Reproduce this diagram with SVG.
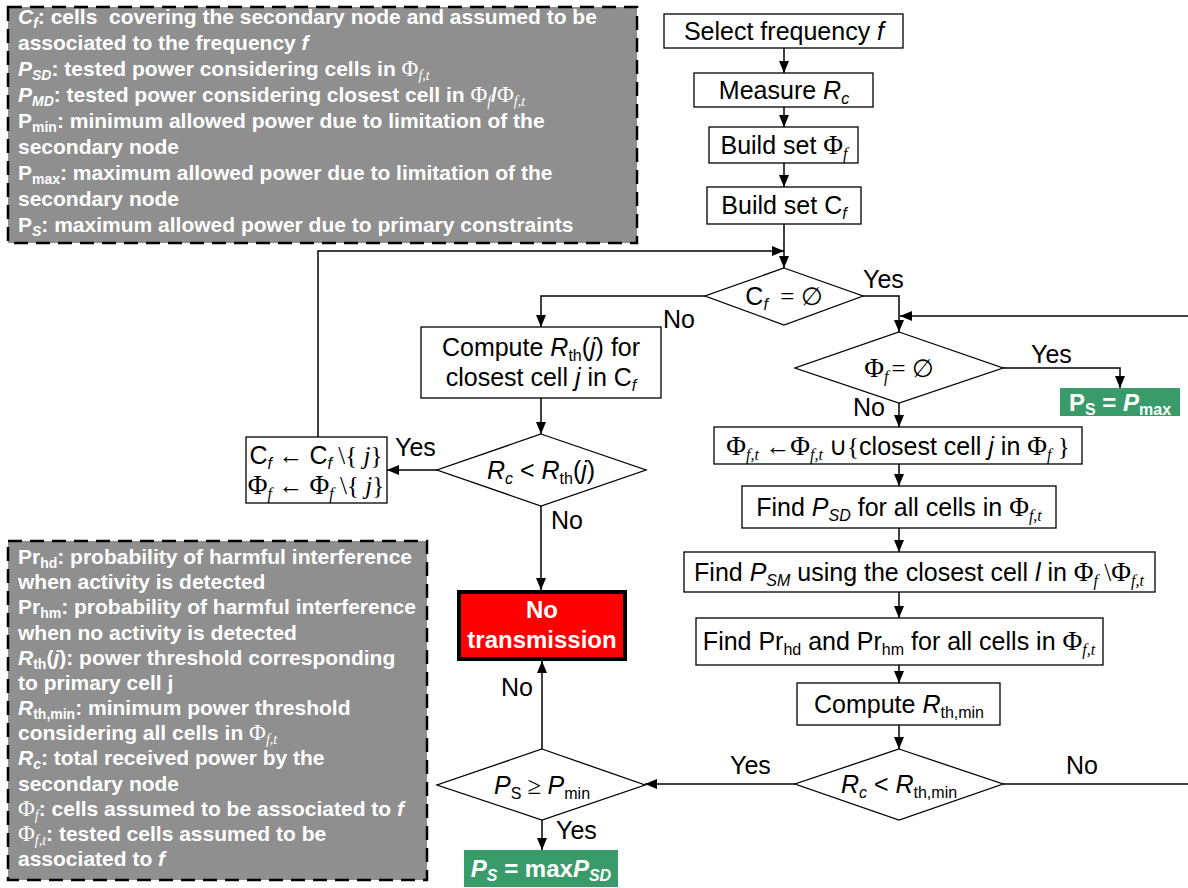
<svg xmlns="http://www.w3.org/2000/svg" width="1188" height="888" viewBox="0 0 1188 888">
<defs>
<style>
.box{fill:#fff;stroke:#000;stroke-width:1.3}
.t{font-family:"Liberation Sans",Arial,sans-serif;font-size:25px;fill:#000}
.sr{font-family:"Liberation Serif","Times New Roman",serif}
.ph{font-family:"Liberation Serif","Times New Roman",serif;font-size:27px}
.lph{font-family:"Liberation Serif","Times New Roman",serif;font-size:23px;font-weight:normal}
.sb{font-size:16px}
.it{font-style:italic}
.leg{fill:#8f8f8f;stroke:#000;stroke-width:2.5;stroke-dasharray:14 8}
.lt{font-family:"Liberation Sans",Arial,sans-serif;font-size:21px;font-weight:bold;fill:#fff}
.ls{font-size:14px}
.wb{font-family:"Liberation Sans",Arial,sans-serif;font-size:24px;font-weight:bold;fill:#fff}
.conn{fill:none;stroke:#000;stroke-width:1.5}
.green{fill:#3a9b6a}
</style>
<marker id="ah" viewBox="0 0 12 10" refX="12" refY="5" markerWidth="12" markerHeight="10" markerUnits="userSpaceOnUse" orient="auto">
<path d="M0,0 L12,5 L0,10 z" fill="#000"/>
</marker>
</defs>
<rect width="1188" height="888" fill="#fff"/>

<g id="legend-top">
<rect class="leg" x="8" y="7" width="629" height="236"/>
<text class="lt" x="18" y="24"><tspan class="it">C</tspan><tspan class="ls it" dy="4">f</tspan><tspan dy="-4">: cells&#160; covering the secondary node and assumed to be</tspan></text>
<text class="lt" x="18" y="50">associated to the frequency <tspan class="it">f</tspan></text>
<text class="lt" x="18" y="76"><tspan class="it">P</tspan><tspan class="ls it" dy="4">SD</tspan><tspan dy="-4">: tested power considering cells in </tspan><tspan class="lph">Φ</tspan><tspan class="ls it sr" font-weight="normal" dy="4">f,t</tspan></text>
<text class="lt" x="18" y="102"><tspan class="it">P</tspan><tspan class="ls it" dy="4">MD</tspan><tspan dy="-4">: tested power considering closest cell in </tspan><tspan class="lph">Φ</tspan><tspan class="ls it sr" font-weight="normal" dy="4">f</tspan><tspan dy="-4">/</tspan><tspan class="lph">Φ</tspan><tspan class="ls it sr" font-weight="normal" dy="4">f,t</tspan></text>
<text class="lt" x="18" y="128">P<tspan class="ls" dy="4">min</tspan><tspan dy="-4">: minimum allowed power due to limitation of the</tspan></text>
<text class="lt" x="18" y="154">secondary node</text>
<text class="lt" x="18" y="180">P<tspan class="ls" dy="4">max</tspan><tspan dy="-4">: maximum allowed power due to limitation of the</tspan></text>
<text class="lt" x="18" y="206">secondary node</text>
<text class="lt" x="18" y="232">P<tspan class="ls it" dy="4">S</tspan><tspan dy="-4">: maximum allowed power due to primary constraints</tspan></text>
</g>

<g id="legend-bottom">
<rect class="leg" x="8" y="541" width="419" height="339"/>
<text class="lt" x="18" y="564">Pr<tspan class="ls" dy="4">hd</tspan><tspan dy="-4">: probability of harmful interference</tspan></text>
<text class="lt" x="18" y="589">when activity is detected</text>
<text class="lt" x="18" y="614">Pr<tspan class="ls" dy="4">hm</tspan><tspan dy="-4">: probability of harmful interference</tspan></text>
<text class="lt" x="18" y="640">when no activity is detected</text>
<text class="lt" x="18" y="665"><tspan class="it">R</tspan><tspan class="ls" dy="4">th</tspan><tspan dy="-4">(</tspan><tspan class="it">j</tspan>): power threshold corresponding</text>
<text class="lt" x="18" y="690">to primary cell j</text>
<text class="lt" x="18" y="715"><tspan class="it">R</tspan><tspan class="ls" dy="4">th,min</tspan><tspan dy="-4">: minimum power threshold</tspan></text>
<text class="lt" x="18" y="740">considering all cells in <tspan class="lph">Φ</tspan><tspan class="ls it sr" font-weight="normal" dy="4">f,t</tspan></text>
<text class="lt" x="18" y="765"><tspan class="it">R</tspan><tspan class="ls it" dy="4">c</tspan><tspan dy="-4">: total received power by the</tspan></text>
<text class="lt" x="18" y="791">secondary node</text>
<text class="lt" x="18" y="816"><tspan class="lph">Φ</tspan><tspan class="ls it sr" font-weight="normal" dy="4">f</tspan><tspan dy="-4">: cells assumed to be associated to </tspan><tspan class="it">f</tspan></text>
<text class="lt" x="18" y="841"><tspan class="lph">Φ</tspan><tspan class="ls it sr" font-weight="normal" dy="4">f,t</tspan><tspan dy="-4">: tested cells assumed to be</tspan></text>
<text class="lt" x="18" y="866">associated to <tspan class="it">f</tspan></text>
</g>

<g id="connectors">
<path class="conn" d="M784,48 V73" marker-end="url(#ah)"/>
<path class="conn" d="M784,107 V127" marker-end="url(#ah)"/>
<path class="conn" d="M784,163 V187" marker-end="url(#ah)"/>
<path class="conn" d="M784,224 V268" marker-end="url(#ah)"/>
<path class="conn" d="M318,437 V251 H784" marker-end="url(#ah)"/>
<path class="conn" d="M705,296 H541 V327" marker-end="url(#ah)"/>
<path class="conn" d="M863,296 H899 V332" marker-end="url(#ah)"/>
<path class="conn" d="M1188,316 H900" marker-end="url(#ah)"/>
<path class="conn" d="M1003,368 H1120 V388" marker-end="url(#ah)"/>
<path class="conn" d="M899,403 V427" marker-end="url(#ah)"/>
<path class="conn" d="M899,464 V486" marker-end="url(#ah)"/>
<path class="conn" d="M899,528 V552" marker-end="url(#ah)"/>
<path class="conn" d="M899,592 V618" marker-end="url(#ah)"/>
<path class="conn" d="M899,665 V683" marker-end="url(#ah)"/>
<path class="conn" d="M899,725 V749" marker-end="url(#ah)"/>
<path class="conn" d="M1003,784 H1188"/>
<path class="conn" d="M795,784 H645" marker-end="url(#ah)"/>
<path class="conn" d="M542,749 V661" marker-end="url(#ah)"/>
<path class="conn" d="M542,820 V850" marker-end="url(#ah)"/>
<path class="conn" d="M541,398 V434" marker-end="url(#ah)"/>
<path class="conn" d="M541,506 V590" marker-end="url(#ah)"/>
<path class="conn" d="M437,470 H387" marker-end="url(#ah)"/>
<text class="t" x="863" y="288">Yes</text>
<text class="t" x="663" y="328">No</text>
<text class="t" x="1031" y="363">Yes</text>
<text class="t" x="853" y="416">No</text>
<text class="t" x="395" y="456">Yes</text>
<text class="t" x="551" y="529">No</text>
<text class="t" x="501" y="696">No</text>
<text class="t" x="556" y="839">Yes</text>
<text class="t" x="730" y="774">Yes</text>
<text class="t" x="1066" y="774">No</text>
</g>

<g id="select-frequency">
<rect class="box" x="664" y="14" width="239" height="34"/>
<text class="t" x="784" y="40" text-anchor="middle">Select frequency <tspan class="it">f</tspan></text>
</g>
<g id="measure-rc">
<rect class="box" x="694" y="73" width="179" height="34"/>
<text class="t" x="784" y="99" text-anchor="middle">Measure <tspan class="it">R</tspan><tspan class="sb it" dy="5">c</tspan></text>
</g>
<g id="build-phi">
<rect class="box" x="709" y="127" width="149" height="36"/>
<text class="t" x="784" y="154" text-anchor="middle">Build set <tspan class="ph">Φ</tspan><tspan class="sb it sr" dy="5">f</tspan></text>
</g>
<g id="build-c">
<rect class="box" x="707" y="187" width="154" height="37"/>
<text class="t" x="784" y="214" text-anchor="middle">Build set C<tspan class="sb it" dy="5">f</tspan></text>
</g>
<g id="cf-empty">
<polygon class="box" points="784,268 863,296 784,325 705,296"/>
<text class="t" x="784" y="305" text-anchor="middle">C<tspan class="sb it" dy="5">f</tspan><tspan class="sr" dy="-5">&#160; = ∅</tspan></text>
</g>
<g id="phi-empty">
<polygon class="box" points="899,332 1003,368 899,403 795,368"/>
<text class="t" x="899" y="377" text-anchor="middle"><tspan class="ph">Φ</tspan><tspan class="sb it sr" dy="5">f</tspan><tspan class="sr" dy="-5" dx="3">= ∅</tspan></text>
</g>
<g id="ps-pmax">
<rect class="green" x="1060" y="388" width="120" height="28"/>
<text class="wb" x="1120" y="411" text-anchor="middle">P<tspan font-size="16" dy="4">S</tspan><tspan dy="-4"> = </tspan><tspan class="it">P</tspan><tspan font-size="16" dy="4">max</tspan></text>
</g>
<g id="add-cell">
<rect class="box" x="714" y="427" width="368" height="37"/>
<text class="t" x="898" y="455" text-anchor="middle"><tspan class="ph">Φ</tspan><tspan class="sb it sr" dy="5">f,t</tspan><tspan class="sr" dy="-5"> ←</tspan><tspan class="ph">Φ</tspan><tspan class="sb it sr" dy="5">f,t</tspan><tspan class="sr" dy="-5"> ∪{</tspan>closest cell <tspan class="it">j</tspan> in <tspan class="ph">Φ</tspan><tspan class="sb it sr" dy="5">f</tspan><tspan class="sr" dy="-5"> }</tspan></text>
</g>
<g id="find-psd">
<rect class="box" x="742" y="486" width="314" height="42"/>
<text class="t" x="899" y="516" text-anchor="middle">Find <tspan class="it">P</tspan><tspan class="sb it" dy="5">SD</tspan><tspan dy="-5"> for all cells in </tspan><tspan class="ph">Φ</tspan><tspan class="sb it sr" dy="5">f,t</tspan></text>
</g>
<g id="find-psm">
<rect class="box" x="684" y="552" width="471" height="40"/>
<text class="t" x="919" y="581" text-anchor="middle">Find <tspan class="it">P</tspan><tspan class="sb it" dy="5">SM</tspan><tspan dy="-5"> using the closest cell </tspan><tspan class="it">l</tspan> in <tspan class="ph">Φ</tspan><tspan class="sb it sr" dy="5">f</tspan><tspan class="sr" dy="-5"> \</tspan><tspan class="ph">Φ</tspan><tspan class="sb it sr" dy="5">f,t</tspan></text>
</g>
<g id="find-pr">
<rect class="box" x="696" y="618" width="407" height="47"/>
<text class="t" x="899" y="650" text-anchor="middle">Find Pr<tspan class="sb" dy="5">hd</tspan><tspan dy="-5"> and Pr</tspan><tspan class="sb" dy="5">hm</tspan><tspan dy="-5"> for all cells in </tspan><tspan class="ph">Φ</tspan><tspan class="sb it sr" dy="5">f,t</tspan></text>
</g>
<g id="compute-rthmin">
<rect class="box" x="797" y="683" width="203" height="42"/>
<text class="t" x="899" y="713" text-anchor="middle">Compute <tspan class="it">R</tspan><tspan class="sb" dy="5">th,min</tspan></text>
</g>
<g id="rc-rthmin">
<polygon class="box" points="899,749 1003,784 899,820 795,784"/>
<text class="t" x="899" y="793" text-anchor="middle"><tspan class="it">R</tspan><tspan class="sb it" dy="5">c</tspan><tspan dy="-5"> &lt; </tspan><tspan class="it">R</tspan><tspan class="sb" dy="5">th,min</tspan></text>
</g>
<g id="ps-pmin">
<polygon class="box" points="542,749 645,785 542,820 437,785"/>
<text class="t" x="542" y="794" text-anchor="middle"><tspan class="it">P</tspan><tspan class="sb" dy="5">S</tspan><tspan class="sr" dy="-5"> ≥ </tspan><tspan class="it">P</tspan><tspan class="sb" dy="5">min</tspan></text>
</g>
<g id="no-transmission">
<rect x="459" y="592" width="166" height="67" fill="#ff0000" stroke="#000" stroke-width="4"/>
<text class="wb" font-size="25" x="542" y="618" text-anchor="middle">No</text>
<text class="wb" font-size="25" x="542" y="648" text-anchor="middle">transmission</text>
</g>
<g id="ps-maxpsd">
<rect class="green" x="464" y="850" width="154" height="37"/>
<text class="wb" x="541" y="877" text-anchor="middle"><tspan class="it">P</tspan><tspan class="it" font-size="16" dy="4">S</tspan><tspan dy="-4"> = max</tspan><tspan class="it">P</tspan><tspan class="it" font-size="16" dy="4">SD</tspan></text>
</g>
<g id="compute-rthj">
<rect class="box" x="421" y="327" width="240" height="71"/>
<text class="t" x="541" y="356" text-anchor="middle">Compute <tspan class="it">R</tspan><tspan class="sb" dy="5">th</tspan><tspan dy="-5">(</tspan><tspan class="it">j</tspan>) for</text>
<text class="t" x="541" y="386" text-anchor="middle">closest cell <tspan class="it">j</tspan> in C<tspan class="sb it" dy="5">f</tspan></text>
</g>
<g id="rc-rthj">
<polygon class="box" points="541,434 646,470 541,506 437,470"/>
<text class="t" x="541" y="479" text-anchor="middle"><tspan class="it">R</tspan><tspan class="sb it" dy="5">c</tspan><tspan dy="-5"> &lt; </tspan><tspan class="it">R</tspan><tspan class="sb" dy="5">th</tspan><tspan dy="-5">(</tspan><tspan class="it">j</tspan>)</text>
</g>
<g id="remove-j">
<rect class="box" x="246" y="437" width="141" height="66"/>
<text class="t" x="316" y="464" text-anchor="middle">C<tspan class="sb it" dy="5">f</tspan><tspan class="sr" dy="-5"> ← </tspan>C<tspan class="sb it" dy="5">f</tspan><tspan class="sr" dy="-5"> \{ </tspan><tspan class="it sr">j</tspan><tspan class="sr">}</tspan></text>
<text class="t" x="316" y="494" text-anchor="middle"><tspan class="ph">Φ</tspan><tspan class="sb it sr" dy="5">f</tspan><tspan class="sr" dy="-5"> ← </tspan><tspan class="ph">Φ</tspan><tspan class="sb it sr" dy="5">f</tspan><tspan class="sr" dy="-5"> \{ </tspan><tspan class="it sr">j</tspan><tspan class="sr">}</tspan></text>
</g>
</svg>
